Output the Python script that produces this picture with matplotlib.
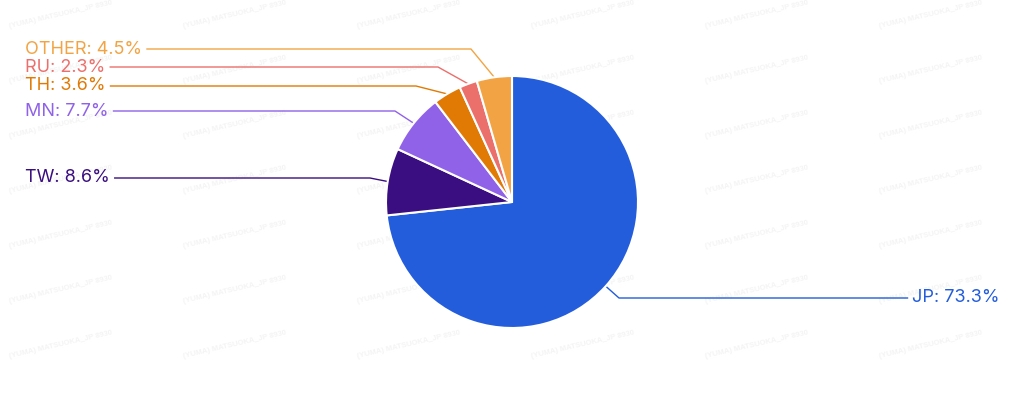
import numpy as np
import matplotlib.pyplot as plt

# data
countries = ['JP', 'TW', 'MN', 'TH', 'RU', 'OTHER']
shares = [73.3, 8.6, 7.7, 3.6, 2.3, 4.5]
colors = ['#235DDB', '#3A0E80', '#9062E8', '#E07A05', '#EB6F6B', '#F2A444']

# label layout (pixels, y from top): label line y, elbow x, side
label_y = [298, 178, 111, 86, 67, 49]
elbow_x = [619, 370, 395, 416, 438, 471]
side = ['right', 'left', 'left', 'left', 'left', 'left']

W, H = 1024, 404
fig = plt.figure(figsize=(W / 100, H / 100), dpi=100)
ax = fig.add_axes([0, 0, 1, 1])
ax.set_xlim(0, W)
ax.set_ylim(0, H)
ax.axis('off')

# faint watermark
for yy in np.arange(30, 370, 55):
    for xx in np.arange(10, W - 100, 174):
        ax.text(xx, H - yy, '(YUMA) MATSUOKA_JP 8930', fontsize=5.5, color='#f4f4f4',
                rotation=13, rotation_mode='anchor', ha='left', va='bottom',
                family='Liberation Sans', fontweight='bold', zorder=0)

cx, cy, r = 512, H - 202, 126
wedges, _ = ax.pie(shares, colors=colors, startangle=90, counterclock=False,
                   center=(cx, cy), radius=r, frame=True,
                   wedgeprops=dict(edgecolor='white', linewidth=1.5))
for w in wedges:
    w.set_zorder(2)
ax.set_xlim(0, W)
ax.set_ylim(0, H)
ax.set_aspect('equal')
ax.axis('off')

fig.canvas.draw()
renderer = fig.canvas.get_renderer()

for w, name, val, col, ly, ex, sd in zip(wedges, countries, shares, colors,
                                         label_y, elbow_x, side):
    mid = np.deg2rad((w.theta1 + w.theta2) / 2)
    px, py = cx + r * np.cos(mid), cy + r * np.sin(mid)
    y = H - ly
    label = f'{name}: {val}%'
    if sd == 'left':
        t = ax.text(25, y, label, color=col, fontsize=13, family='Inter',
                    ha='left', va='center', zorder=3)
        bb = t.get_window_extent(renderer)
        x_end = bb.x1 + 5
    else:
        t = ax.text(1000, y, label, color=col, fontsize=13, family='Inter',
                    ha='right', va='center', zorder=3)
        bb = t.get_window_extent(renderer)
        x_end = bb.x0 - 5
    ax.plot([px, ex, x_end], [py, y, y], color=col, lw=1, zorder=1)

fig.savefig('out.png', dpi=100)
